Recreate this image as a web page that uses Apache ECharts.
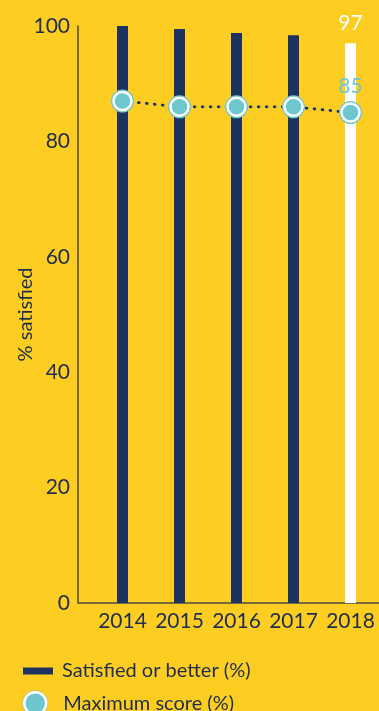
<!DOCTYPE html>
<html>
<head>
<meta charset="utf-8">
<script src="https://cdn.jsdelivr.net/npm/echarts@6/dist/echarts.min.js"></script>
<style>
  html, body { margin: 0; padding: 0; background: #FDCD22; }
  #chart { width: 379px; height: 711px; }
</style>
</head>
<body>
<div id="chart"></div>
<script>
// Survey results by year
const years = ['2014', '2015', '2016', '2017', '2018'];
const satisfiedOrBetter = [100, 99.5, 98.8, 98.4, 97];
const maximumScore = [87, 86, 86, 86, 85];
const yTicks = { min: 0, max: 100, interval: 20 };

const NAVY = '#1C3360';
const TEAL = '#6EC6CF';
const TEXT = '#1F2D4E';
const FONT = 'Lato';
const last = years.length - 1;

const barData = satisfiedOrBetter.map((v, i) => i === last ? {
  value: v,
  itemStyle: { color: '#FFFFFF' },
  label: { show: true, position: 'top', distance: 10, color: '#FFFFFF', fontSize: 21, fontFamily: FONT, formatter: '{c}' }
} : v);

const pointData = maximumScore.map((v, i) => i === last ? {
  value: v,
  label: { show: true, position: 'top', distance: 6, color: TEAL, fontSize: 21, fontFamily: FONT, formatter: '{c}' }
} : v);

const chart = echarts.init(document.getElementById('chart'), null, { renderer: 'canvas' });
chart.setOption({
  backgroundColor: '#FDCD22',
  animation: false,
  textStyle: { fontFamily: FONT },
  grid: { left: 94, right: 0, top: 26, bottom: 108, containLabel: false },
  xAxis: {
    type: 'category',
    data: years,
    axisLine: { show: true, lineStyle: { color: '#4A4A44', width: 1.5 } },
    axisTick: { show: false },
    axisLabel: { color: TEXT, fontSize: 21, fontFamily: FONT, margin: 8, interval: 0 }
  },
  yAxis: {
    type: 'value',
    min: yTicks.min, max: yTicks.max, interval: yTicks.interval,
    offset: 16,
    name: '% satisfied',
    nameLocation: 'middle',
    nameGap: 42,
    nameMoveOverlap: false,
    nameTextStyle: { color: TEXT, fontSize: 20, fontFamily: FONT },
    axisLine: { show: true, lineStyle: { color: '#4A4A44', width: 1.5 } },
    axisTick: { show: false },
    splitLine: { show: false },
    axisLabel: { color: TEXT, fontSize: 21, fontFamily: FONT, margin: 8 }
  },
  // short piece of baseline between the offset y axis and the plot area
  graphic: [{
    type: 'line',
    shape: { x1: 78, y1: 603, x2: 94, y2: 603 },
    style: { stroke: '#4A4A44', lineWidth: 1.5 },
    z: 5
  }],
  legend: [{
    data: ['Satisfied or better (%)'],
    orient: 'vertical',
    left: 18, top: 656,
    icon: 'rect',
    itemWidth: 30, itemHeight: 7,
    textStyle: { color: TEXT, fontSize: 20, fontFamily: FONT, padding: [0, 0, 0, 4] },
    selectedMode: false
  }, {
    data: [{
      name: 'Maximum score (%)',
      icon: 'circle',
      itemStyle: { color: TEAL, borderColor: '#FFFFFF', borderWidth: 2.5, shadowBlur: 2, shadowColor: TEAL }
    }],
    orient: 'vertical',
    left: 18, top: 686,
    itemWidth: 22, itemHeight: 22,
    textStyle: { color: TEXT, fontSize: 20, fontFamily: FONT, padding: [0, 0, 0, 12] },
    selectedMode: false
  }],
  series: [{
    name: 'Satisfied or better (%)',
    type: 'bar',
    data: barData,
    barWidth: 11,
    itemStyle: { color: NAVY },
    z: 2
  }, {
    name: 'trend',
    type: 'line',
    data: maximumScore,
    showSymbol: false,
    lineStyle: { color: NAVY, width: 2.8, type: [0.8, 7.2], cap: 'round' },
    z: 3
  }, {
    name: 'ring',
    type: 'scatter',
    data: maximumScore,
    symbolSize: 23,
    itemStyle: { color: TEAL, opacity: 1 },
    z: 4
  }, {
    name: 'Maximum score (%)',
    type: 'scatter',
    data: pointData,
    symbolSize: 18,
    itemStyle: { color: TEAL, borderColor: '#FFFFFF', borderWidth: 2.5, opacity: 1 },
    z: 5
  }]
});
</script>
</body>
</html>
